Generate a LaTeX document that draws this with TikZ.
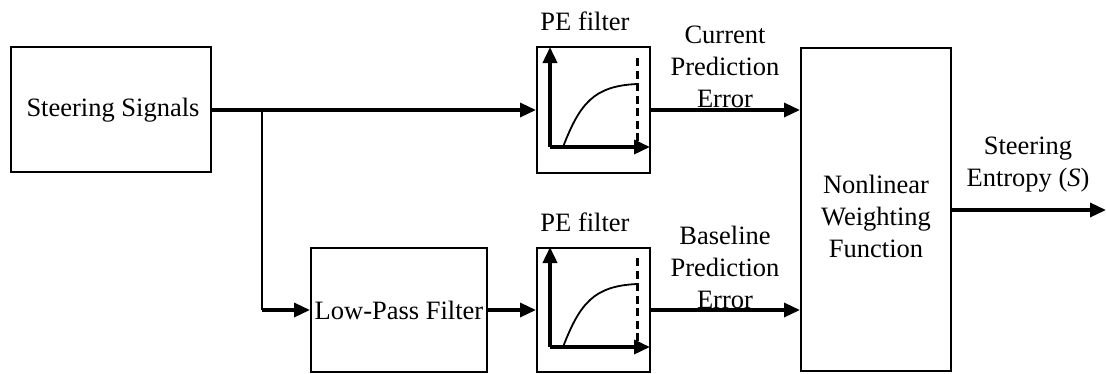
\documentclass[tikz,border=0pt]{standalone}
\usepackage{fontspec}
\setmainfont{Liberation Serif}
\usetikzlibrary{arrows.meta}
\tikzset{
  blk/.style={draw, line width=2pt, inner sep=0pt},
  txt/.style={font=\fontsize{26.5}{32}\selectfont, align=center, inner sep=0pt},
  sig/.style={line width=3.4pt, -{Triangle[length=16pt,width=14pt]}},
  plain/.style={line width=2.6pt},
  axis/.style={line width=3.6pt, -{Triangle[length=16pt,width=14pt]}},
  dsh/.style={line width=3pt, dash pattern=on 8pt off 4.5pt},
  crv/.style={line width=1.8pt}
}
\begin{document}
\begin{tikzpicture}[x=1pt,y=-1pt]
\useasboundingbox (0,0) rectangle (1106,373);
% boxes
\node[blk, minimum width=200pt, minimum height=125pt] (ss) at (111,109.5) {};
\node[txt] (sstxt) at (113,110) {Steering Signals};
\node[blk, minimum width=176pt, minimum height=124pt] (lpf) at (399,309.5) {};
\node[txt] (lpftxt) at (399,310) {Low-Pass Filter};
\node[blk, minimum width=113pt, minimum height=126pt] (pe1) at (593.5,110) {};
\node[blk, minimum width=113pt, minimum height=124pt] (pe2) at (593.5,309.5) {};
\node[blk, minimum width=150pt, minimum height=323pt] (nl) at (876,209) {};
\node[txt] (nltxt) at (876,216) {Nonlinear\\Weighting\\Function};
% labels
\node[txt] (pe1lab) at (585,21) {PE filter};
\node[txt] (pe2lab) at (585,222) {PE filter};
\node[txt] (cpe) at (725,67) {Current\\Prediction\\Error};
\node[txt] (bpe) at (725,267) {Baseline\\Prediction\\Error};
\node[txt] (se) at (1028,165) {Steering\\Entropy (\textit{S})};
% connectors
\coordinate (j) at (262,110);
\coordinate (jd) at (262,310);
\coordinate (out) at (1106,210);
\draw[sig] (ss.east |- 0,110) -- (pe1.west |- 0,110);
\draw[plain] (j) -- (jd);
\draw[sig] (jd) -- (lpf.west |- jd);
\draw[sig] (lpf.east |- 0,310) -- (pe2.west |- 0,310);
\draw[sig] (pe1.east |- 0,110) -- (nl.west |- 0,110);
\draw[sig] (pe2.east |- 0,310) -- (nl.west |- 0,310);
\draw[sig] (nl.east |- out) -- (out);
% PE filter graphs
\foreach \n/\dy in {pe1/0, pe2/200}{
  \coordinate (\n o) at (550,147+\dy);
  \draw[axis] (\n o) -- (550,47+\dy);
  \draw[axis] (\n o) -- (650,147+\dy);
  \draw[dsh] (637,58+\dy) -- (637,147+\dy);
  \draw[crv] (563,147+\dy) .. controls (580,103+\dy) and (594,86+\dy) .. (637,84+\dy);
}
\end{tikzpicture}
\end{document}
